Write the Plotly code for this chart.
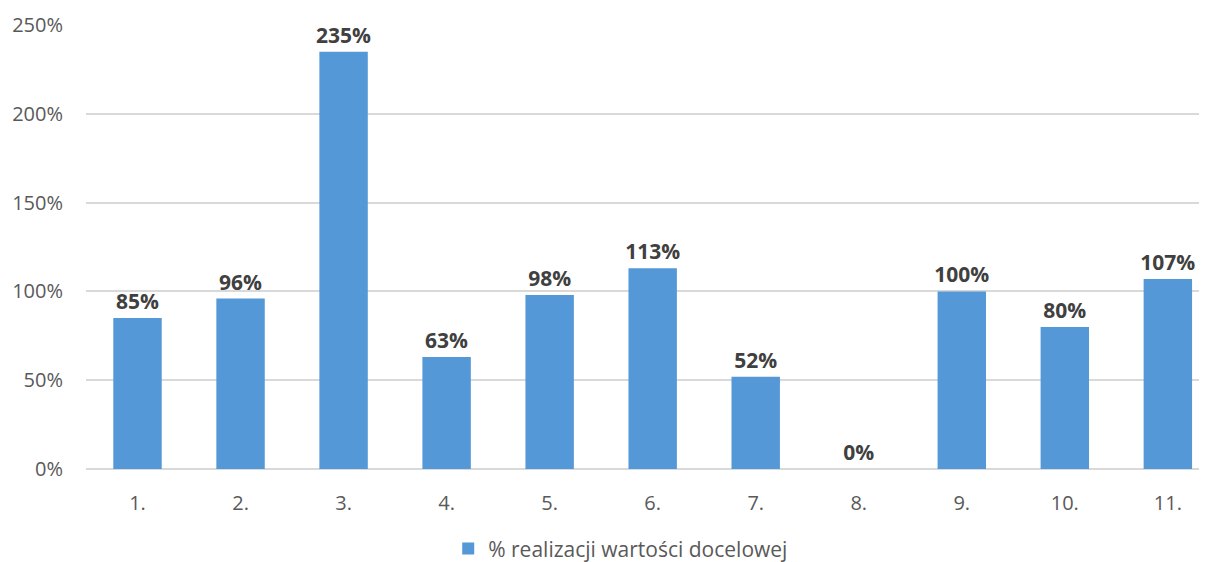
import plotly.graph_objects as go

categories = ["1.", "2.", "3.", "4.", "5.", "6.", "7.", "8.", "9.", "10.", "11."]
values = [85, 96, 235, 63, 98, 113, 52, 0, 100, 80, 107]
labels = [f"{v}%" for v in values]
series_name = "% realizacji wartości docelowej"
y_ticks = [0, 50, 100, 150, 200, 250]
y_tick_labels = [f"{t}%" for t in y_ticks]

fig = go.Figure()
fig.add_trace(go.Bar(
    x=categories,
    y=values,
    name=series_name,
    width=0.47,
    marker=dict(color="#5598D8", line=dict(width=0)),
    text=labels,
    textposition="outside",
    constraintext="none",
    cliponaxis=False,
    textfont=dict(family="Open Sans", size=21, color="#404040", weight="bold"),
    showlegend=True,
))

fig.update_layout(
    width=1199,
    height=554,
    paper_bgcolor="white",
    plot_bgcolor="white",
    margin=dict(l=78, r=0, t=17, b=93, autoexpand=False),
    font=dict(family="Open Sans", size=20, color="#595959"),
    showlegend=True,
    legend=dict(
        orientation="h",
        x=0.477, xanchor="center",
        y=-0.18, yanchor="middle",
        font=dict(size=21, color="#595959"),
        itemwidth=30,
    ),
    xaxis=dict(
        range=[-0.5, 10.38],
        automargin=False,
        showgrid=False,
        showline=False,
        ticks="",
        ticklabelstandoff=20,
        tickfont=dict(size=20, color="#595959"),
    ),
    yaxis=dict(
        range=[0, 250],
        automargin=False,
        tickvals=y_ticks,
        ticktext=y_tick_labels,
        showgrid=True,
        gridcolor="#D9D9D9",
        gridwidth=1.5,
        zeroline=True,
        zerolinecolor="#D9D9D9",
        zerolinewidth=1.5,
        ticks="",
        ticklabelstandoff=22,
        tickfont=dict(size=20, color="#595959"),
    ),
)

fig.write_html("out.html")
